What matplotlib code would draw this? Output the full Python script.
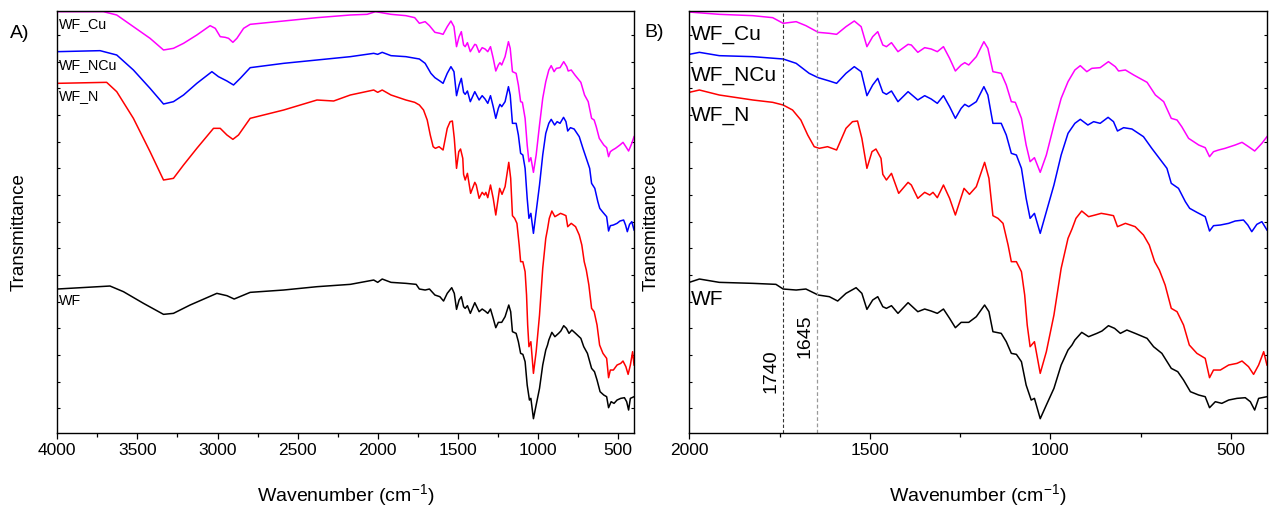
import matplotlib
matplotlib.use('Agg')
import matplotlib.pyplot as plt
from matplotlib.ticker import MultipleLocator, FixedLocator

plt.rcParams['font.family'] = ['Liberation Sans', 'DejaVu Sans']
plt.rcParams['mathtext.default'] = 'regular'

# ---- data: (wavenumber cm-1, transmittance, arbitrary offset units) ----
wf_cu = [(4000, 1263), (3712, 1263), (3629, 1253), (3525, 1218), (3421, 1183), (3337, 1148), (3275, 1153),
         (3212, 1168), (3129, 1193), (3046, 1221), (3014, 1213), (2983, 1188), (2952, 1186), (2931, 1183),
         (2904, 1171), (2879, 1183), (2837, 1213), (2796, 1225), (2587, 1235), (2379, 1245), (2171, 1253),
         (2066, 1255), (2014, 1263), (1917, 1255), (1824, 1251), (1769, 1245), (1740, 1228), (1704, 1233),
         (1677, 1221), (1643, 1201), (1612, 1198), (1592, 1195), (1566, 1218), (1543, 1235), (1524, 1218),
         (1508, 1158), (1492, 1188), (1478, 1203), (1464, 1163), (1454, 1158), (1440, 1170), (1422, 1143),
         (1394, 1165), (1385, 1163), (1367, 1141), (1348, 1155), (1330, 1151), (1313, 1143), (1296, 1158),
         (1279, 1123), (1263, 1085), (1247, 1103), (1237, 1110), (1226, 1103), (1205, 1128), (1184, 1173),
         (1173, 1153), (1159, 1083), (1136, 1078), (1122, 1043), (1108, 993), (1097, 991), (1080, 943),
         (1067, 863), (1056, 813), (1044, 825), (1028, 781), (1011, 833), (990, 923), (970, 1003),
         (951, 1053), (932, 1088), (917, 1101), (899, 1083), (885, 1093), (862, 1095), (839, 1113),
         (820, 1098), (811, 1085), (792, 1088), (769, 1073), (732, 1051), (709, 1013), (686, 993),
         (665, 943), (649, 938), (636, 918), (617, 883), (589, 863), (571, 855), (559, 828), (548, 843),
         (534, 848), (516, 853), (488, 863), (469, 871), (451, 858), (434, 845), (414, 868), (400, 888)]

wf_ncu = [(4000, 1143), (3733, 1146), (3629, 1133), (3525, 1088), (3421, 1033), (3337, 986), (3275, 993),
          (3212, 1013), (3129, 1048), (3035, 1083), (2994, 1068), (2941, 1055), (2900, 1043), (2858, 1063),
          (2796, 1095), (2587, 1108), (2379, 1118), (2171, 1128), (2025, 1138), (2000, 1135), (1972, 1141),
          (1917, 1131), (1824, 1128), (1740, 1121), (1704, 1108), (1668, 1078), (1643, 1065), (1612, 1055),
          (1592, 1048), (1566, 1078), (1543, 1098), (1524, 1083), (1508, 1011), (1492, 1043), (1478, 1063),
          (1464, 1021), (1454, 1015), (1440, 1025), (1422, 993), (1394, 1023), (1367, 998), (1348, 1011),
          (1330, 1001), (1313, 988), (1296, 1011), (1279, 978), (1263, 943), (1247, 973), (1237, 985),
          (1226, 978), (1205, 993), (1184, 1038), (1173, 1013), (1159, 928), (1136, 928), (1122, 893),
          (1108, 838), (1094, 833), (1080, 793), (1067, 703), (1056, 643), (1044, 658), (1028, 598),
          (1011, 663), (990, 743), (970, 833), (951, 898), (932, 928), (917, 940), (896, 923), (880, 933),
          (862, 928), (840, 946), (825, 933), (814, 905), (797, 915), (774, 911), (742, 888), (719, 853),
          (691, 813), (677, 793), (665, 748), (645, 733), (626, 693), (614, 673), (594, 661), (571, 648),
          (559, 605), (548, 621), (529, 623), (506, 628), (488, 635), (465, 638), (453, 623), (442, 603),
          (428, 625), (414, 633), (400, 608)]

wf_n = [(4000, 1048), (3692, 1051), (3629, 1023), (3525, 943), (3421, 843), (3337, 758), (3275, 763),
        (3212, 803), (3129, 853), (3025, 913), (2983, 913), (2941, 893), (2904, 880), (2869, 893),
        (2796, 943), (2587, 968), (2379, 998), (2275, 995), (2171, 1013), (2025, 1028), (2000, 1021),
        (1972, 1028), (1917, 1013), (1824, 998), (1769, 991), (1740, 983), (1714, 968), (1691, 938),
        (1672, 893), (1654, 858), (1640, 853), (1617, 858), (1592, 848), (1566, 913), (1548, 933),
        (1534, 935), (1522, 883), (1508, 793), (1494, 843), (1483, 851), (1469, 823), (1464, 775),
        (1454, 758), (1440, 778), (1420, 718), (1394, 751), (1385, 743), (1367, 703), (1348, 721),
        (1334, 713), (1325, 721), (1313, 705), (1296, 743), (1279, 703), (1263, 653), (1239, 733),
        (1224, 715), (1205, 738), (1182, 811), (1170, 763), (1159, 651), (1145, 643), (1131, 628),
        (1117, 563), (1108, 513), (1094, 513), (1080, 483), (1071, 413), (1064, 323), (1056, 258),
        (1044, 273), (1028, 178), (1011, 243), (990, 353), (970, 493), (951, 583), (940, 611), (929, 643),
        (913, 665), (894, 648), (876, 653), (859, 658), (843, 655), (825, 651), (814, 618), (792, 628),
        (765, 618), (742, 593), (726, 563), (711, 513), (698, 488), (682, 443), (665, 373), (649, 363),
        (631, 323), (615, 263), (594, 238), (571, 223), (559, 165), (548, 188), (529, 188), (506, 203),
        (483, 208), (469, 215), (451, 198), (437, 175), (423, 203), (409, 243), (400, 203)]

wf = [(4000, 431), (3671, 440), (3587, 423), (3462, 388), (3337, 355), (3275, 358), (3171, 383),
      (3004, 418), (2941, 411), (2896, 401), (2796, 421), (2587, 428), (2379, 438), (2171, 445),
      (2025, 458), (2000, 451), (1972, 461), (1917, 451), (1824, 448), (1760, 445), (1740, 431),
      (1704, 428), (1677, 431), (1643, 413), (1612, 408), (1589, 395), (1566, 418), (1538, 435),
      (1522, 418), (1508, 370), (1492, 398), (1478, 408), (1464, 378), (1454, 373), (1440, 381),
      (1422, 358), (1394, 390), (1367, 363), (1348, 371), (1330, 365), (1313, 358), (1296, 371),
      (1279, 343), (1263, 315), (1247, 331), (1226, 331), (1205, 348), (1182, 383), (1170, 363),
      (1159, 303), (1136, 298), (1122, 273), (1108, 238), (1094, 235), (1080, 213), (1067, 143),
      (1053, 98), (1044, 103), (1028, 42), (1011, 83), (990, 133), (970, 203), (951, 248), (940, 263),
      (932, 278), (913, 301), (894, 288), (871, 298), (857, 305), (839, 321), (822, 313), (806, 298),
      (788, 308), (765, 298), (732, 283), (714, 258), (691, 238), (665, 193), (647, 183), (631, 158),
      (612, 123), (589, 113), (571, 108), (559, 75), (543, 93), (525, 88), (506, 98), (483, 103),
      (460, 105), (446, 93), (434, 68), (423, 103), (400, 108)]

series_names = ['WF', 'WF_N', 'WF_NCu', 'WF_Cu']
series_data = [wf, wf_n, wf_ncu, wf_cu]
series_colors = ['#000000', '#FF0000', '#0000FF', '#FF00FF']

marker_lines = [1740, 1645]
marker_labels = ['1740', '1645']

# ---- figure ----
fig = plt.figure(figsize=(12.76, 5.09), dpi=100)
axA = fig.add_axes([0.0449, 0.1499, 0.4520, 0.8285])
axB = fig.add_axes([0.5402, 0.1499, 0.4527, 0.8285])

y_ticks = [73 + 80 * k for k in range(15)]

for ax, xlim in [(axA, (4000, 400)), (axB, (2000, 400))]:
    for pairs, color in zip(series_data, series_colors):
        wn = [p[0] for p in pairs]
        t = [p[1] for p in pairs]
        ax.plot(wn, t, color=color, lw=1.1)
    ax.set_xlim(*xlim)
    ax.set_ylim(0, 1265)
    ax.xaxis.set_major_locator(MultipleLocator(500))
    ax.xaxis.set_minor_locator(MultipleLocator(250))
    ax.yaxis.set_major_locator(FixedLocator(y_ticks))
    ax.tick_params(axis='x', which='major', direction='out', length=4.5, width=0.9,
                   labelsize=12.5, pad=3)
    ax.tick_params(axis='x', which='minor', direction='out', length=3, width=0.9)
    ax.tick_params(axis='y', which='both', direction='in', left=True, right=True,
                   length=2.5, width=0.8, labelleft=False)
    for s in ax.spines.values():
        s.set_linewidth(1.0)
    ax.text(0.5, -0.148, 'Wavenumber (cm$^{-1}$)', transform=ax.transAxes,
            ha='center', va='center', fontsize=14)
    ax.text(-0.0664, 0.476, 'Transmittance', transform=ax.transAxes, rotation=90,
            ha='center', va='center', fontsize=13.5)

# series labels
labA_y = [0.313, 0.7991, 0.8722, 0.9694]
labB_y = [0.3163, 0.7517, 0.848, 0.9448]
for name, ya, yb in zip(series_names, labA_y, labB_y):
    axA.text(0.002, ya, name, transform=axA.transAxes, ha='left', va='center', fontsize=10.3)
    axB.text(0.002, yb, name, transform=axB.transAxes, ha='left', va='center', fontsize=15)

# dashed reference lines in panel B
axB.axvline(marker_lines[0], color='#333333', ls=(0, (3, 2)), lw=0.8)
axB.axvline(marker_lines[1], color='#999999', ls=(0, (3, 2)), lw=0.9)
axB.text(0.1406, 0.1451, marker_labels[0], transform=axB.transAxes, rotation=90,
         ha='center', va='center', fontsize=14)
axB.text(0.2011, 0.2293, marker_labels[1], transform=axB.transAxes, rotation=90,
         ha='center', va='center', fontsize=14)

fig.text(0.0157, 0.935, 'A)', ha='center', va='center', fontsize=14)
fig.text(0.5125, 0.937, 'B)', ha='center', va='center', fontsize=14)

fig.savefig('out.png', dpi=100)
